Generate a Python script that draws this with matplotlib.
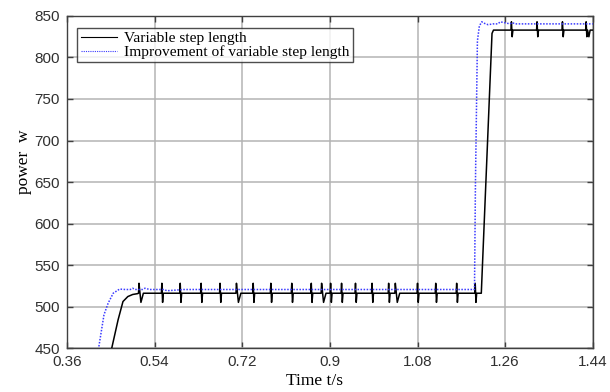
import matplotlib
matplotlib.use("Agg")
import matplotlib.pyplot as plt
import numpy as np

# ---------------- data ----------------
x_ticks = [0.36, 0.54, 0.72, 0.9, 1.08, 1.26, 1.44]
x_tick_labels = ["0.36", "0.54", "0.72", "0.9", "1.08", "1.26", "1.44"]
y_ticks = [450, 500, 550, 600, 650, 700, 750, 800, 850]

# Variable step length (black)
black_rise_t = [0.440, 0.452, 0.465, 0.475, 0.485, 0.495, 0.505]
black_rise_p = [430, 450, 484, 506, 512, 514.5, 515.5]
black_low_level = 516
black_low_spikes = [0.5079, 0.5549, 0.5926, 0.6355, 0.6744, 0.7081, 0.7425, 0.7787,
                    0.8217, 0.8618, 0.8830, 0.9015, 0.9240, 0.9526, 0.9866, 1.0207,
                    1.0344, 1.0800, 1.1174, 1.1604, 1.1985]
black_low_vshape = [0.5079, 0.7081, 0.8830, 1.0344]
black_jump_t = [1.211, 1.233, 1.236]
black_jump_p = [516, 829, 833]
black_high_level = 833
black_high_spikes = [1.2729, 1.3255, 1.3777, 1.4263]
black_end_t = [1.432, 1.4345, 1.44]
black_end_p = [825, 833, 833]

# Improvement of variable step length (blue dotted)
blue_rise_t = [0.420, 0.425, 0.436, 0.4445, 0.455, 0.468, 0.480]
blue_rise_p = [430, 450, 490, 504, 516, 521, 520.5]
blue_low_ripple_t = [0.49, 0.495, 0.50, 0.515, 0.52, 0.53, 0.56, 0.565, 0.60, 0.61, 1.197]
blue_low_ripple_p = [520.5, 522, 520.5, 520.5, 522, 520.5, 520.5, 519, 520.5, 520.5, 520.5]
blue_jump_t = [1.199, 1.203, 1.207, 1.212, 1.218, 1.225, 1.235, 1.245, 1.25, 1.27, 1.275, 1.28, 1.44]
blue_jump_p = [650, 820, 838, 843, 841, 839.5, 840.5, 840.5, 843, 840.5, 842, 840.5, 840.5]

# ---------------- build line paths ----------------
def add_spikes(ts, ps, spikes, base, up, down, vshape=()):
    for s in spikes:
        if s in vshape:
            ts += [s - 0.001, s, s + 0.004, s + 0.009]
            ps += [base, base + up, base - down, base]
        else:
            ts += [s - 0.001, s, s + 0.0015, s + 0.003]
            ps += [base, base + up, base - down, base]

bt = list(black_rise_t)
bp = list(black_rise_p)
add_spikes(bt, bp, black_low_spikes, black_low_level, 12, 11, black_low_vshape)
bt += black_jump_t
bp += black_jump_p
add_spikes(bt, bp, black_high_spikes, black_high_level, 10, 8)
bt += black_end_t
bp += black_end_p

blt = blue_rise_t + blue_low_ripple_t + blue_jump_t
blp = blue_rise_p + blue_low_ripple_p + blue_jump_p

# ---------------- figure ----------------
fig = plt.figure(figsize=(6.10, 3.92), dpi=100)
ax = fig.add_axes([0.1098, 0.1122, 0.862, 0.847])

ax.plot(bt, bp, color="black", lw=1.1, label="Variable step length", zorder=3)
ax.plot(blt, blp, color="#3a3aff", lw=1.1, ls=(0, (1, 1)),
        label="Improvement of variable step length", zorder=4)

ax.set_xlim(0.36, 1.44)
ax.set_ylim(450, 850)
ax.set_xticks(x_ticks)
ax.set_xticklabels(x_tick_labels)
ax.set_yticks(y_ticks)

ax.grid(True, color="#b4b4b4", lw=1.1)
ax.set_axisbelow(True)
ax.tick_params(direction="in", top=True, right=True, length=4, width=1,
               colors="#404040", labelsize=11, pad=5)
for lab in ax.get_xticklabels() + ax.get_yticklabels():
    lab.set_color("#303030")
    lab.set_family("Liberation Sans")
for sp in ax.spines.values():
    sp.set_color("#404040")
    sp.set_linewidth(1.0)

ax.set_xlabel("Time t/s", family="Liberation Serif", fontsize=12.5)
ax.xaxis.set_label_coords(0.471, -0.075)
ax.set_ylabel("power  w", family="Liberation Serif", fontsize=12.5)
ax.yaxis.set_label_coords(-0.066, 0.56)

leg = ax.legend(loc="upper left", bbox_to_anchor=(0.014, 0.972),
                prop={"family": "Liberation Serif", "size": 11.1},
                frameon=True, fancybox=False, edgecolor="#202020",
                handlelength=2.35, handletextpad=0.5, borderpad=0.2,
                labelspacing=0.0, borderaxespad=0.2)
leg.get_frame().set_linewidth(1.0)
for line in leg.get_lines():
    line.set_linewidth(0.8)

fig.savefig("out.png", dpi=100)
